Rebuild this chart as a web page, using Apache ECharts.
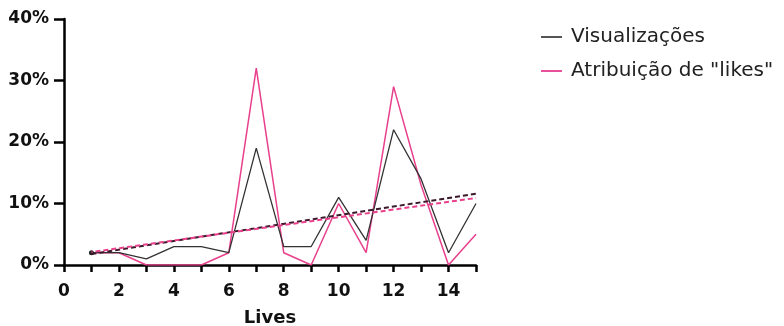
<!DOCTYPE html>
<html><head><meta charset="utf-8">
<script src="https://cdn.jsdelivr.net/npm/echarts@6/dist/echarts.min.js"></script>
<style>html,body{margin:0;padding:0;background:#fff}#c{width:784px;height:326px}</style>
</head><body><div id="c"></div>
<script>
const lives = [1,2,3,4,5,6,7,8,9,10,11,12,13,14,15];
const visualizacoes = [2,2,1,3,3,2,19,3,3,11,4,22,14,2,10];
const likes = [2,2,0,0,0,2,32,2,0,10,2,29,13,0,5];
const trendX = [1,15];
const trendVis = [1.8,11.6];
const trendLikes = [2.1,10.9];
const yTicks = [0,10,20,30,40];
const seriesNames = ['Visualizações','Atribuição de "likes"'];

const pair = (xs, ys) => xs.map((x,i)=>[x, ys[i]]);
const chart = echarts.init(document.getElementById('c'));
const font = 'DejaVu Sans, sans-serif';
chart.setOption({
  animation:false,
  grid:{left:64,right:308,top:19,bottom:61,containLabel:false,outerBoundsMode:'none'},
  legend:{
    orient:'vertical', left:536, top:22, itemGap:14,
    itemWidth:21, itemHeight:2, icon:'rect',
    textStyle:{fontFamily:font,fontSize:20,color:'#222',padding:[0,0,0,4]},
    data:[{name:seriesNames[0],itemStyle:{color:'#555'}},{name:seriesNames[1],itemStyle:{color:'#e8509a'}}]
  },
  xAxis:{
    type:'value',min:0,max:15,interval:1,
    name:'Lives',nameLocation:'middle',nameGap:44,
    nameTextStyle:{fontFamily:font,fontSize:18,fontWeight:'bold',color:'#111'},
    axisLine:{show:true,lineStyle:{color:'#000',width:2.5}},
    axisTick:{show:true,length:7,lineStyle:{color:'#000',width:2.5}},
    axisLabel:{fontFamily:font,fontSize:17,fontWeight:'bold',color:'#111',margin:18,
      formatter:v=> (v%2===0 ? String(v) : '')},
    splitLine:{show:false}
  },
  yAxis:{
    type:'value',min:yTicks[0],max:yTicks[yTicks.length-1],interval:10,
    axisLine:{show:true,lineStyle:{color:'#000',width:2.5}},
    axisTick:{show:true,length:10,lineStyle:{color:'#000',width:2.5}},
    axisLabel:{fontFamily:font,fontSize:17,fontWeight:'bold',color:'#111',margin:15,formatter:v=>v+'%'},
    splitLine:{show:false}
  },
  series:[
    {name:seriesNames[0],type:'line',
      data:pair(lives,visualizacoes).map((p,i)=> i===0 ? {value:p,symbol:'circle',symbolSize:5} : p),
      symbol:'none',showSymbol:true,
      lineStyle:{color:'#333',width:1.3},itemStyle:{color:'#222'},z:3},
    {name:seriesNames[1],type:'line',data:pair(lives,likes),symbol:'none',
      lineStyle:{color:'#e8408c',width:1.5},itemStyle:{color:'#e8408c'},z:2},
    {name:'trendVis',type:'line',data:pair(trendX,trendVis),symbol:'none',
      lineStyle:{color:'#3a1a2a',width:2,type:[5,3]},z:4},
    {name:'trendLikes',type:'line',data:pair(trendX,trendLikes),symbol:'none',
      lineStyle:{color:'#e8408c',width:2,type:[5,3],dashOffset:4},z:4}
  ]
});
</script></body></html>
